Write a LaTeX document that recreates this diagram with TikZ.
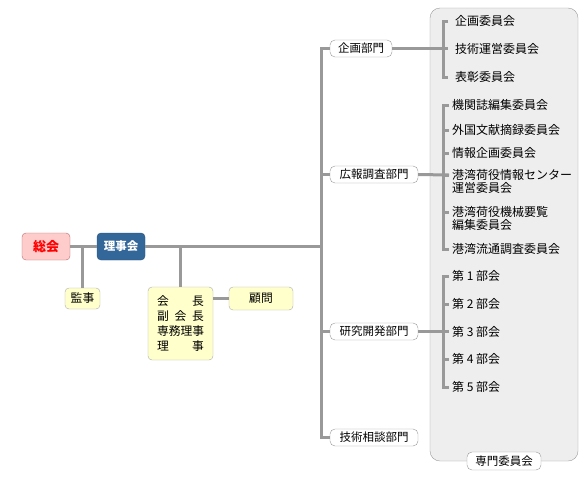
\documentclass[tikz,border=0pt]{standalone}
\usepackage{fontspec}
\setmainfont{Noto Sans CJK JP}
\usetikzlibrary{positioning}
\definecolor{linegray}{HTML}{999999}
\definecolor{panelgray}{HTML}{EEEEEE}
\definecolor{boxyellow}{HTML}{FFFFCC}
\definecolor{boxpink}{HTML}{FFCCCC}
\definecolor{boardblue}{HTML}{336699}
\newcommand{\spreadline}[1]{\makebox[47pt][s]{#1}}

\begin{document}
\begin{tikzpicture}[
    x=1pt, y=-1pt,
    link/.style={draw=linegray, line width=3pt},
    topbox/.style={
      draw, rounded corners=4pt, inner sep=0pt,
      minimum width=48pt, minimum height=27pt, font=\bfseries
    },
    ybox/.style={
      draw=linegray!80, fill=boxyellow, rounded corners=4pt,
      inner sep=0pt, font=\fontsize{11.8}{15}\selectfont
    },
    deptbox/.style={
      draw=linegray, fill=white, rounded corners=5pt, inner sep=0pt,
      minimum height=17pt, font=\fontsize{11.5}{13}\selectfont
    },
    item/.style={
      anchor=west, inner sep=0pt, align=left,
      font=\fontsize{12}{12.5}\selectfont
    },
  ]
    \useasboundingbox (0,0) rectangle (585,480);

    % panel of the committees
    \draw[draw=linegray, fill=panelgray, rounded corners=10pt]
      (430,8) rectangle (578,461);
    \node[deptbox, minimum width=74pt, minimum height=18pt] (senmon) at (504,461) {専門委員会};

    % left part
    \node[topbox, fill=boxpink, draw=red!30!linegray, text=red,
      font=\fontsize{13}{13}\bfseries] (sokai) at (46,246.5) {総会};
    \node[topbox, fill=boardblue, draw=boardblue!80!black, text=white,
      font=\fontsize{11.5}{12}\bfseries] (rijikai) at (121,246.5) {理事会};
    \node[ybox, minimum width=35pt, minimum height=21pt] (kanji) at (82.5,298.5) {監事};
    \node[ybox, minimum width=65pt, minimum height=73pt, align=left] (yakuin) at (180.5,323.5) {%
      \spreadline{会\hfill 長}\\
      \spreadline{副\hfill 会\hfill 長}\\
      \spreadline{専務理事}\\
      \spreadline{理\hfill 事}};
    \node[ybox, minimum width=64pt, minimum height=23pt] (komon) at (261,298.5) {顧問};

    % departments
    \node[deptbox, minimum width=62pt] (kikaku) at (361,48.5) {企画部門};
    \node[deptbox, minimum width=88pt] (koho) at (374,174.5) {広報調査部門};
    \node[deptbox, minimum width=88pt] (kenkyu) at (374,331.5) {研究開発部門};
    \node[deptbox, minimum width=88pt] (sodan) at (374,437.5) {技術相談部門};

    % committees
    \node[item] (ki1) at (455,21) {企画委員会};
    \node[item] (ki2) at (455,48.5) {技術運営委員会};
    \node[item] (ki3) at (455,77) {表彰委員会};
    \node[item] (ko1) at (452,105) {機関誌編集委員会};
    \node[item] (ko2) at (452,130) {外国文献摘録委員会};
    \node[item] (ko3) at (452,153) {情報企画委員会};
    \node[item] (ko4) at (452,181.5) {港湾荷役情報センター\\運営委員会};
    \node[item] (ko5) at (452,218.5) {港湾荷役機械要覧\\編集委員会};
    \node[item] (ko6) at (452,249) {港湾流通調査委員会};
    \node[item] (ke1) at (452,276) {第 1 部会};
    \node[item] (ke2) at (452,304) {第 2 部会};
    \node[item] (ke3) at (452,331.5) {第 3 部会};
    \node[item] (ke4) at (452,359) {第 4 部会};
    \node[item] (ke5) at (452,387) {第 5 部会};

    % connectors of the left part
    \draw[link] (sokai) -- (rijikai);
    \draw[link] (kanji.north) -- (kanji.north |- sokai.east);
    \draw[link] (yakuin.north) -- (yakuin.north |- rijikai.east);
    \draw[link] (yakuin.east |- komon.west) -- (komon.west);
    \draw[link] (rijikai.east) -- ([xshift=-8pt]rijikai.east -| kikaku.west);

    % trunk to the departments
    \draw[link] (kikaku.west) -- ++(-8,0) |- (sodan.west);
    \draw[link] (koho.west) -- ++(-8,0);
    \draw[link] (kenkyu.west) -- ++(-8,0);

    % brackets of the committees
    \draw[link] ([xshift=-7pt]ki1.west) -| ([xshift=-12pt]ki3.west) -- ([xshift=-7pt]ki3.west);
    \draw[link] (kikaku.east) -- ([xshift=-7pt]ki2.west);
    \draw[link] ([xshift=-3pt]ko1.west) -| ([xshift=-9pt]ko6.west) -- ([xshift=-3pt]ko6.west);
    \draw[link] (koho.east) -- ([xshift=-3pt,yshift=6.5pt]ko4.west);
    \foreach \n in {ko2,ko3}
      \draw[link] ([xshift=-9pt]\n.west) -- ([xshift=-3pt]\n.west);
    \foreach \n in {ko4,ko5}
      \draw[link] ([xshift=-9pt,yshift=6.5pt]\n.west) -- ([xshift=-3pt,yshift=6.5pt]\n.west);
    \draw[link] ([xshift=-3pt]ke1.west) -| ([xshift=-9pt]ke5.west) -- ([xshift=-3pt]ke5.west);
    \draw[link] (kenkyu.east) -- ([xshift=-3pt]ke3.west);
    \foreach \n in {ke2,ke4}
      \draw[link] ([xshift=-9pt]\n.west) -- ([xshift=-3pt]\n.west);
  \end{tikzpicture}
\end{document}
